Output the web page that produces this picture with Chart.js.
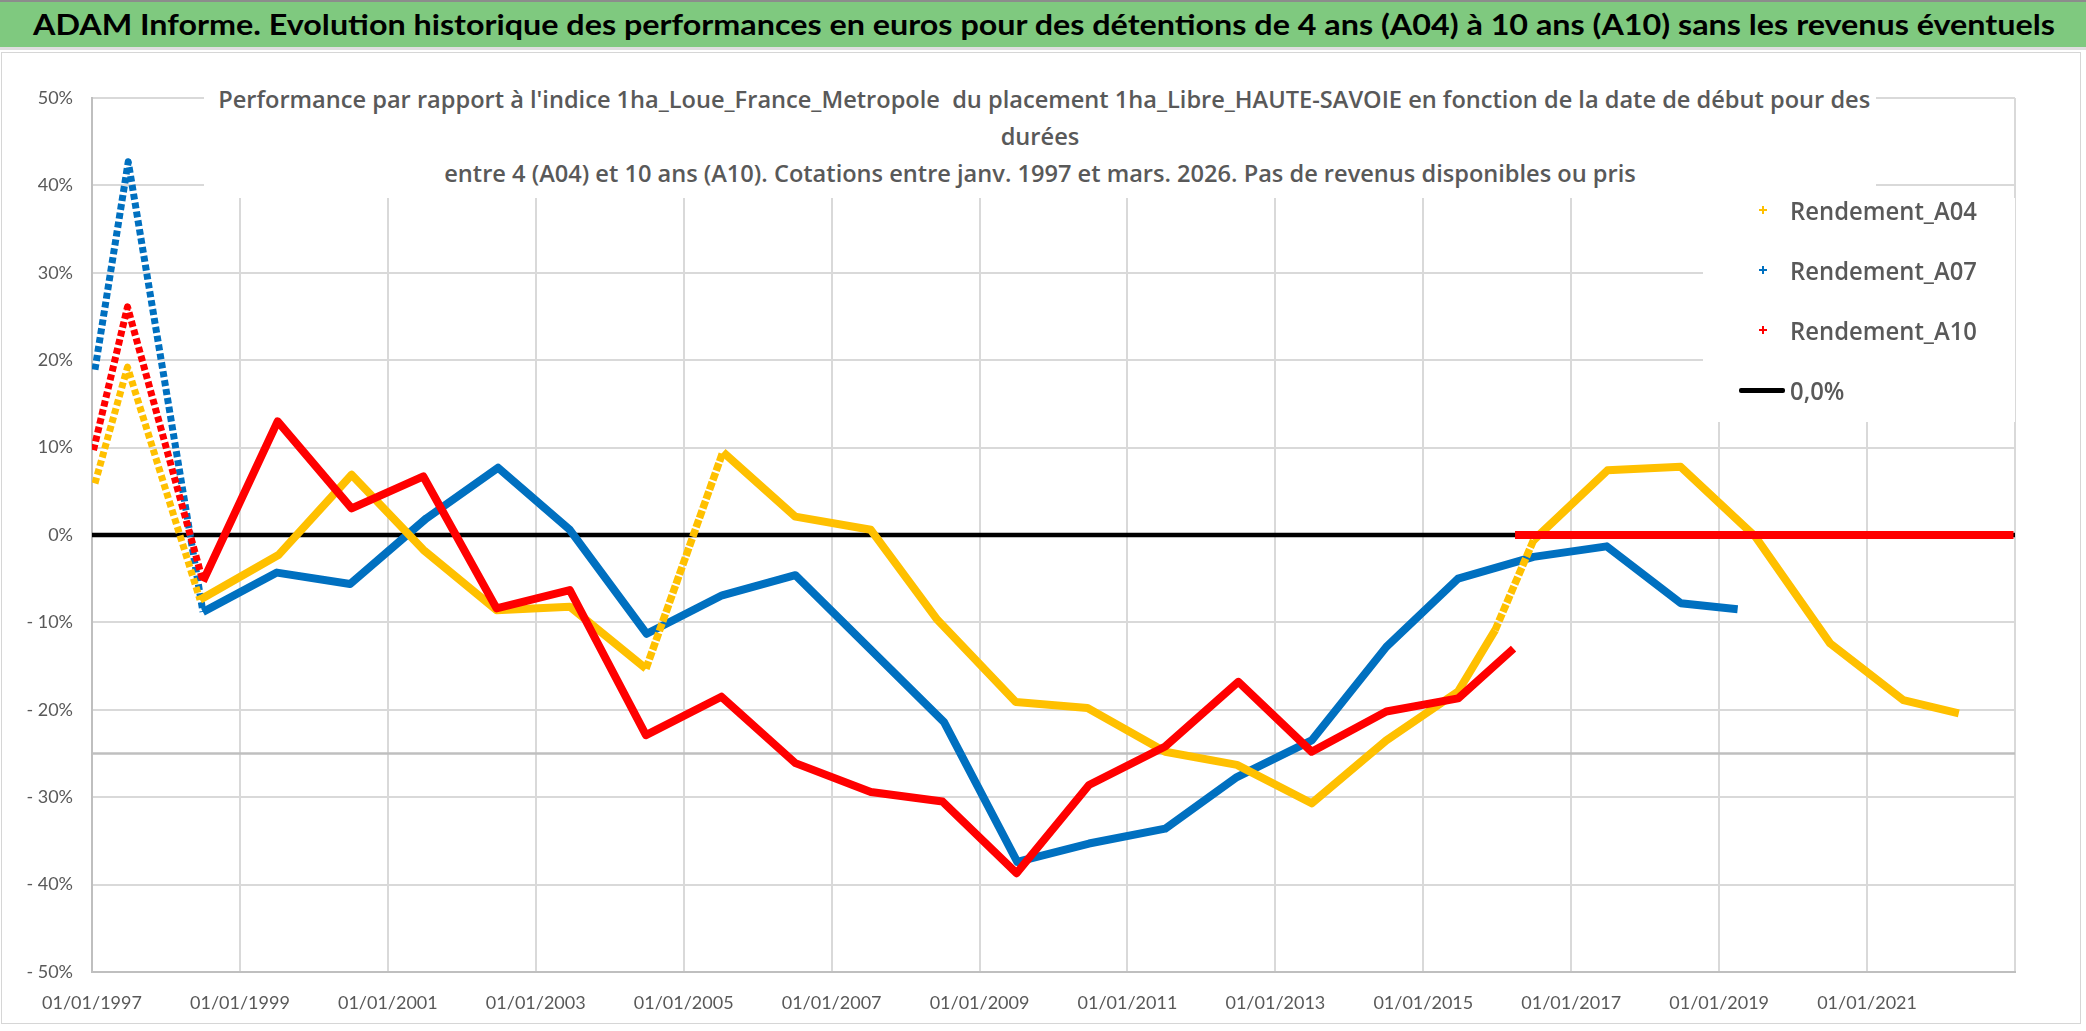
<!DOCTYPE html>
<html lang="fr">
<head>
<meta charset="utf-8">
<title>ADAM Informe</title>
<script src="https://cdn.jsdelivr.net/npm/chart.js@4.4.1/dist/chart.umd.min.js"></script>
<style>
  html, body { margin: 0; padding: 0; background: #fff; }
  #wrap { position: relative; width: 2086px; height: 1031px; overflow: hidden; background: #fff; font-family: Lato, "Open Sans", sans-serif; }
  #c { position: absolute; left: 0; top: 0; }
  #frame { position: absolute; left: 1px; top: 52px; width: 2080px; height: 972px; border: 1.5px solid #d6d6d6; box-sizing: border-box; pointer-events: none; }
  #header { position: absolute; left: 0; top: 0; width: 2086px; height: 50px; background: #7fc97f; border-top: 2px solid #8c8c8c; border-bottom: 3px solid #dedede; box-sizing: border-box; }
  #header span { position: absolute; left: 33px; top: 4px; font-weight: 700; font-size: 29px; line-height: 36px; color: #000; white-space: nowrap; transform-origin: 0 50%; }
  #titlebox { position: absolute; left: 204px; top: 58px; width: 1672px; height: 140px; background: #fff; }
  .tl { position: absolute; left: 0; width: 1672px; height: 36px; line-height: 36px; text-align: center; white-space: nowrap; }
  .tl span { display: inline-block; font-family: "Open Sans", Lato, sans-serif; font-weight: 600; font-size: 24px; color: #595959; transform-origin: 50% 50%; }
  #legendbox { position: absolute; left: 1703px; top: 198px; width: 312px; height: 224px; background: #fff; }
  .li { position: absolute; left: 0; width: 312px; height: 40px; }
  .li .mk { position: absolute; left: 53px; top: 13px; width: 14px; height: 14px; }
  .li .mk::before, .li .mk::after { content: ""; position: absolute; background: currentColor; }
  .li .mk::before { left: 3px; top: 6px; width: 8px; height: 2px; }
  .li .mk::after { left: 6px; top: 3px; width: 2px; height: 8px; }
  .li .bar { position: absolute; left: 36px; top: 18px; width: 46px; height: 4.5px; background: #000; border-radius: 2px; }
  .li .lab { position: absolute; left: 87px; top: 0; line-height: 40px; font-family: "Open Sans", Lato, sans-serif; font-weight: 600; font-size: 26px; color: #595959; white-space: nowrap; transform-origin: 0 50%; }
</style>
</head>
<body>
<div id="wrap">
  <canvas id="c" width="2086" height="1031"></canvas>
  <div id="frame"></div>
  <div id="header"><span id="headText">ADAM Informe. Evolution historique des performances en euros pour des détentions de 4 ans (A04) à 10 ans (A10) sans les revenus éventuels</span></div>
  <div id="titlebox">
    <div class="tl" style="top:23px"><span>Performance par rapport à l'indice 1ha_Loue_France_Metropole&nbsp; du placement 1ha_Libre_HAUTE-SAVOIE en fonction de la date de début pour des</span></div>
    <div class="tl" style="top:60px"><span>durées</span></div>
    <div class="tl" style="top:97px"><span>entre 4 (A04) et 10 ans (A10). Cotations entre janv. 1997 et mars. 2026. Pas de revenus disponibles ou pris</span></div>
  </div>
  <div id="legendbox">
    <div class="li" style="top:-8px"><span class="mk" style="color:#FFC000"></span><span class="lab">Rendement_A04</span></div>
    <div class="li" style="top:52px"><span class="mk" style="color:#0070C0"></span><span class="lab">Rendement_A07</span></div>
    <div class="li" style="top:112px"><span class="mk" style="color:#FF0000"></span><span class="lab">Rendement_A10</span></div>
    <div class="li" style="top:172px"><span class="bar"></span><span class="lab">0,0%</span></div>
  </div>
</div>
<script>
// dates de début (années décimales) et performances en %
const a04Dates = [1997.04, 1997.48, 1998.46, 1999.52, 2000.51, 2001.48, 2002.47, 2003.46, 2004.49, 2005.53, 2006.51, 2007.53, 2008.43, 2009.49, 2010.46, 2011.51, 2012.48, 2013.49, 2014.50, 2015.47, 2015.97, 2016.49, 2017.49, 2018.48, 2019.49, 2020.50, 2021.49, 2022.24];
const a04Values = [5.9, 19.2, -7.4, -2.3, 6.9, -1.7, -8.6, -8.2, -15.3, 9.5, 2.1, 0.6, -9.7, -19.1, -19.8, -24.8, -26.3, -30.7, -23.5, -17.9, -10.9, -0.6, 7.4, 7.8, -0.2, -12.4, -18.9, -20.4];

const a07Dates = [1997.04, 1997.49, 1998.50, 1999.50, 2000.49, 2001.52, 2002.49, 2003.46, 2004.50, 2005.52, 2006.51, 2008.52, 2009.51, 2010.48, 2011.51, 2012.48, 2013.49, 2014.50, 2015.47, 2016.49, 2017.48, 2018.48, 2019.25];
const a07Values = [18.9, 42.7, -8.8, -4.3, -5.6, 1.9, 7.7, 0.6, -11.3, -6.9, -4.6, -21.4, -37.4, -35.3, -33.6, -27.7, -23.5, -12.8, -5.0, -2.5, -1.3, -7.8, -8.5];

const a10Dates = [1997.02, 1997.48, 1998.50, 1999.51, 2000.51, 2001.48, 2002.47, 2003.46, 2004.49, 2005.51, 2006.51, 2007.53, 2008.50, 2009.50, 2010.48, 2011.51, 2012.50, 2013.49, 2014.50, 2015.47, 2016.22, 2016.23, 2016.24, 2022.98];
const a10Values = [9.7, 26.1, -5.3, 13.0, 3.05, 6.7, -8.4, -6.3, -22.9, -18.5, -26.1, -29.4, -30.5, -38.7, -28.6, -24.2, -16.8, -24.8, -20.2, -18.7, -13.0, null, 0, 0];

const zeroDates = [1997, 2023];
const zeroValues = [0, 0];

const xTicks = [1997, 2023, 2];      // min, max, pas (années)
const yTicks = [-50, 50, 10];        // min, max, pas (%)
const refLineValue = -25;

function toPoints(dates, values) {
    return dates.map((d, i) => ({ x: d, y: values[i] }));
}

// segments très pentus : aspect "croix" espacées
function ratio(c) {
    return Math.abs(c.p1.y - c.p0.y) / Math.max(1, Math.abs(c.p1.x - c.p0.x));
}
const segStyle = {
    borderDash: (c) => (ratio(c) > 3 ? [6, 3] : ratio(c) > 2.2 ? [8, 2] : undefined),
    borderWidth: (c) => (ratio(c) > 3 ? 7 : ratio(c) > 2.2 ? 7.5 : undefined),
};

function serie(label, dates, values, color, order) {
    return {
        label: label,
        data: toPoints(dates, values),
        borderColor: color,
        backgroundColor: color,
        borderWidth: 8,
        borderJoinStyle: "round",
        pointRadius: 0,
        tension: 0,
        spanGaps: false,
        order: order,
        segment: segStyle,
    };
}

const refLine = {
    id: "refLine",
    beforeDatasetsDraw(chart) {
        const ctx = chart.ctx;
        const a = chart.chartArea;
        const y = chart.scales.y.getPixelForValue(refLineValue);
        ctx.save();
        ctx.strokeStyle = "#bfbfbf";
        ctx.lineWidth = 2.5;
        ctx.beginPath();
        ctx.moveTo(a.left, y);
        ctx.lineTo(a.right, y);
        ctx.stroke();
        ctx.restore();
    },
};

const tickFont = { family: "Lato", size: 18 };

new Chart(document.getElementById("c").getContext("2d"), {
    type: "line",
    data: {
        datasets: [
            serie("Rendement_A04", a04Dates, a04Values, "#FFC000", 2),
            serie("Rendement_A07", a07Dates, a07Values, "#0070C0", 3),
            serie("Rendement_A10", a10Dates, a10Values, "#FF0000", 1),
            {
                label: "0,0%",
                data: toPoints(zeroDates, zeroValues),
                borderColor: "#000",
                borderWidth: 4.5,
                pointRadius: 0,
                order: 4,
            },
        ],
    },
    options: {
        responsive: false,
        animation: false,
        layout: { padding: { top: 98, right: 71, bottom: 0, left: 0 } },
        plugins: {
            legend: { display: false },
            tooltip: { enabled: false },
        },
        scales: {
            x: {
                type: "linear",
                min: xTicks[0],
                max: xTicks[1],
                afterFit: (s) => { s.height = 59; },
                grid: { color: "#d9d9d9", lineWidth: 2, drawTicks: false },
                border: { color: "#bfbfbf", width: 2 },
                ticks: {
                    stepSize: xTicks[2],
                    autoSkip: false,
                    maxRotation: 0,
                    padding: 20,
                    color: "#595959",
                    font: tickFont,
                    callback: (v) => (v >= xTicks[1] ? "" : "01/01/" + v),
                },
            },
            y: {
                min: yTicks[0],
                max: yTicks[1],
                afterFit: (s) => { s.width = 92; },
                grid: { color: "#d9d9d9", lineWidth: 2, drawTicks: false },
                border: { color: "#bfbfbf", width: 2 },
                ticks: {
                    stepSize: yTicks[2],
                    padding: 19,
                    color: "#595959",
                    font: tickFont,
                    callback: (v) => (v < 0 ? "- " + Math.abs(v) + "%" : v + "%"),
                },
            },
        },
    },
    plugins: [refLine],
});

// ajuste la largeur des textes pour retrouver celle de l'original
function fit(el, target) {
    const w = el.getBoundingClientRect().width;
    const k = target / w;
    el.style.transform = "scaleX(" + k + ")";
    return k;
}
function fitAll() {
    document.querySelectorAll("#headText, .tl span, .li .lab").forEach((s) => { s.style.transform = "none"; });
    fit(document.getElementById("headText"), 2022);
    const lines = document.querySelectorAll(".tl span");
    const k = 1652 / lines[0].getBoundingClientRect().width;
    lines.forEach((s) => { s.style.transform = "scaleX(" + k + ")"; });
    const labs = document.querySelectorAll(".li .lab");
    const k2 = 187 / labs[0].getBoundingClientRect().width;
    labs.forEach((s) => { s.style.transform = "scaleX(" + k2 + ")"; });
}
fitAll();
if (document.fonts && document.fonts.ready) document.fonts.ready.then(fitAll);
</script>
</body>
</html>
